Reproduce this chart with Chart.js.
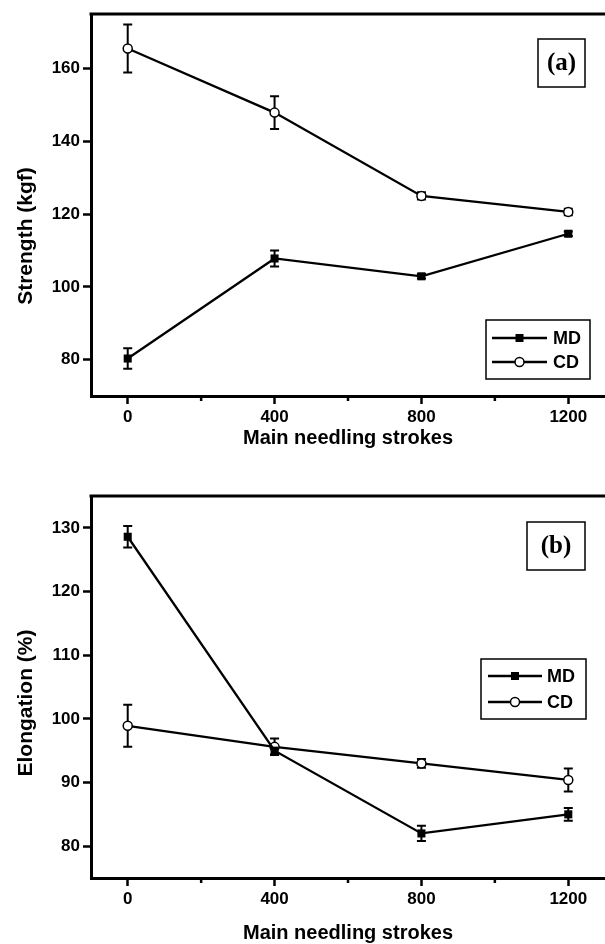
<!DOCTYPE html>
<html>
<head>
<meta charset="utf-8">
<script src="https://cdn.jsdelivr.net/npm/chart.js@4.4.0/dist/chart.umd.min.js"></script>
<style>
html, body { margin: 0; padding: 0; background: #fff; }
#wrap { position: relative; width: 605px; height: 944px; overflow: hidden; }
canvas { position: absolute; left: 0; }
</style>
</head>
<body>
<div id="wrap">
  <canvas id="chartA" width="605" height="472" style="top:0"></canvas>
  <canvas id="chartB" width="605" height="472" style="top:472px"></canvas>
</div>
<script>
// main needling strokes (x)
var strokes = [0, 400, 800, 1200];
var xTicks = [0, 400, 800, 1200];
var xMinorTicks = [200, 600, 1000];

// (a) strength, kgf
var strengthMD = [80.3, 107.8, 102.9, 114.6];
var strengthMDErr = [2.8, 2.2, 0.6, 0.6];
var strengthCD = [165.5, 147.9, 125.0, 120.6];
var strengthCDErr = [6.6, 4.5, 1.0, 0.9];
var strengthTicks = [80, 100, 120, 140, 160];

// (b) elongation, %
var elongMD = [128.6, 95.0, 82.0, 85.0];
var elongMDErr = [1.7, 0.6, 1.2, 1.0];
var elongCD = [98.9, 95.6, 93.0, 90.4];
var elongCDErr = [3.3, 1.3, 0.7, 1.8];
var elongTicks = [80, 90, 100, 110, 120, 130];

var SANS = '"Liberation Sans", Arial, sans-serif';
var SERIF = '"Liberation Serif", "Times New Roman", serif';

function points(ys) {
  return strokes.map(function(x, i) { return { x: x, y: ys[i] }; });
}

/** vertical error bars with caps, drawn under the lines and markers */
var errorBars = {
  id: 'errorBars',
  beforeDatasetsDraw: function(chart) {
    var ctx = chart.ctx, ys = chart.scales.y;
    chart.data.datasets.forEach(function(ds, i) {
      var meta = chart.getDatasetMeta(i);
      meta.data.forEach(function(pt, j) {
        var v = ds.data[j].y, e = ds.errors[j];
        var top = ys.getPixelForValue(v + e), bot = ys.getPixelForValue(v - e);
        ctx.save();
        ctx.strokeStyle = '#000';
        ctx.lineWidth = 2;
        ctx.beginPath();
        ctx.moveTo(pt.x, top); ctx.lineTo(pt.x, bot);
        ctx.moveTo(pt.x - 4.5, top); ctx.lineTo(pt.x + 4.5, top);
        ctx.moveTo(pt.x - 4.5, bot); ctx.lineTo(pt.x + 4.5, bot);
        ctx.stroke();
        ctx.restore();
      });
    });
  }
};

/** frame top line, minor ticks, y title, panel label and legend box */
var panelDecor = {
  id: 'panelDecor',
  afterDraw: function(chart, args, opts) {
    var ctx = chart.ctx, area = chart.chartArea, xs = chart.scales.x;
    ctx.save();
    ctx.strokeStyle = '#000';
    ctx.fillStyle = '#000';

    // top border
    ctx.lineWidth = 3;
    ctx.beginPath();
    ctx.moveTo(area.left - 1.5, area.top);
    ctx.lineTo(chart.width, area.top);
    ctx.stroke();

    // minor ticks on x
    ctx.lineWidth = 2.5;
    xMinorTicks.forEach(function(v) {
      var px = xs.getPixelForValue(v);
      ctx.beginPath();
      ctx.moveTo(px, area.bottom);
      ctx.lineTo(px, area.bottom + 5);
      ctx.stroke();
    });

    // y title
    ctx.save();
    ctx.translate(opts.yTitleX, opts.yTitleY);
    ctx.rotate(-Math.PI / 2);
    ctx.font = 'bold 21px ' + SANS;
    ctx.textAlign = 'center';
    ctx.textBaseline = 'middle';
    ctx.fillText(opts.yTitle, 0, 0);
    ctx.restore();

    // panel label box
    var b = opts.labelBox;
    ctx.lineWidth = 1.5;
    ctx.strokeRect(b[0], b[1], b[2] - b[0], b[3] - b[1]);
    ctx.font = 'bold 25px ' + SERIF;
    ctx.textAlign = 'center';
    ctx.textBaseline = 'middle';
    ctx.fillText(opts.label, (b[0] + b[2]) / 2, (b[1] + b[3]) / 2 + 1);

    // legend
    var lg = opts.legend;
    ctx.lineWidth = 1.5;
    ctx.strokeRect(lg.box[0], lg.box[1], lg.box[2] - lg.box[0], lg.box[3] - lg.box[1]);
    chart.data.datasets.forEach(function(ds, i) {
      var ry = lg.rows[i];
      var mx = (lg.lineX[0] + lg.lineX[1]) / 2;
      ctx.lineWidth = 2.3;
      ctx.beginPath();
      ctx.moveTo(lg.lineX[0], ry);
      ctx.lineTo(lg.lineX[1], ry);
      ctx.stroke();
      if (ds.pointStyle === 'rect') {
        ctx.fillRect(mx - 4, ry - 4, 8, 8);
      } else {
        ctx.beginPath();
        ctx.arc(mx, ry, 4.5, 0, Math.PI * 2);
        ctx.fillStyle = '#fff';
        ctx.fill();
        ctx.lineWidth = 1.5;
        ctx.stroke();
        ctx.fillStyle = '#000';
      }
      ctx.font = 'bold 18px ' + SANS;
      ctx.textAlign = 'left';
      ctx.textBaseline = 'middle';
      ctx.fillText(ds.label, lg.textX, ry + 1);
    });
    ctx.restore();
  }
};

function makeChart(id, md, mdErr, cd, cdErr, yMin, yMax, yTicks, cfg) {
  var ctx = document.getElementById(id).getContext('2d');
  return new Chart(ctx, {
    type: 'line',
    data: {
      datasets: [{
        label: 'MD',
        data: points(md),
        errors: mdErr,
        borderColor: '#000',
        backgroundColor: '#000',
        borderWidth: 2.3,
        pointStyle: 'rect',
        pointRadius: 5.7,
        pointBorderWidth: 0,
        pointBackgroundColor: '#000',
        tension: 0
      }, {
        label: 'CD',
        data: points(cd),
        errors: cdErr,
        borderColor: '#000',
        backgroundColor: '#fff',
        borderWidth: 2.3,
        pointStyle: 'circle',
        pointRadius: 4.5,
        pointBorderWidth: 1.5,
        pointBackgroundColor: '#fff',
        pointBorderColor: '#000',
        tension: 0
      }]
    },
    options: {
      responsive: false,
      animation: false,
      devicePixelRatio: 1,
      layout: { autoPadding: false, padding: { top: cfg.top, right: 0, left: 0, bottom: 0 } },
      plugins: {
        legend: { display: false },
        tooltip: { enabled: false },
        panelDecor: cfg.decor
      },
      scales: {
        x: {
          type: 'linear',
          min: -100,
          max: 1300,
          afterBuildTicks: function(s) { s.ticks = xTicks.map(function(v) { return { value: v }; }); },
          afterFit: function(s) {
            s.height = cfg.xHeight;
            s.paddingLeft = 0;
            s.paddingRight = 0;
          },
          grid: { drawOnChartArea: false, drawTicks: true, tickLength: 8, tickWidth: 2.5, tickColor: '#000' },
          border: { display: true, color: '#000', width: 3 },
          ticks: { color: '#000', padding: 3, maxRotation: 0, autoSkip: false,
                   callback: function(v) { return String(v); },
                   font: { family: SANS, size: 17, weight: 'bold' } },
          title: { display: true, text: 'Main needling strokes', color: '#000',
                   font: { family: SANS, size: 20, weight: 'bold', lineHeight: 1 },
                   padding: { top: 0, bottom: cfg.xTitlePad } }
        },
        y: {
          min: yMin,
          max: yMax,
          afterBuildTicks: function(s) { s.ticks = yTicks.map(function(v) { return { value: v }; }); },
          afterFit: function(s) {
            s.width = 91;
            s.paddingTop = 0;
            s.paddingBottom = 0;
          },
          grid: { drawOnChartArea: false, drawTicks: true, tickLength: 8, tickWidth: 2.5, tickColor: '#000' },
          border: { display: true, color: '#000', width: 3 },
          ticks: { color: '#000', padding: 3, callback: function(v) { return String(v); },
                   font: { family: SANS, size: 17, weight: 'bold' } }
        }
      }
    },
    plugins: [errorBars, panelDecor]
  });
}

makeChart('chartA', strengthMD, strengthMDErr, strengthCD, strengthCDErr, 70, 175, strengthTicks, {
  top: 14, xHeight: 76, xTitlePad: 24,
  decor: {
    yTitle: 'Strength (kgf)', yTitleX: 26, yTitleY: 236,
    label: '(a)', labelBox: [538, 39, 585, 87],
    legend: { box: [486, 320, 590, 379], rows: [338, 362], lineX: [492, 547], textX: 553 }
  }
});

makeChart('chartB', elongMD, elongMDErr, elongCD, elongCDErr, 75, 135, elongTicks, {
  top: 24, xHeight: 66, xTitlePad: 1,
  decor: {
    yTitle: 'Elongation (%)', yTitleX: 26, yTitleY: 231,
    label: '(b)', labelBox: [527, 50, 585, 98],
    legend: { box: [481, 187, 586, 247], rows: [204, 230], lineX: [488, 542], textX: 547 }
  }
});
</script>
</body>
</html>
